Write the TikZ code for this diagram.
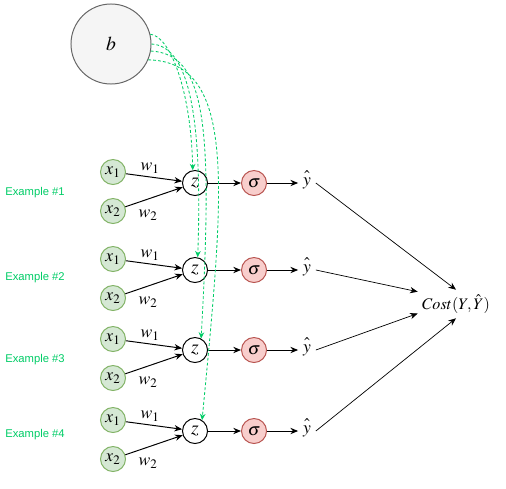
\documentclass[tikz,border=0pt]{standalone}
\usepackage{fontspec}
\usepackage{mathptmx}
\newfontfamily\exfont{Liberation Sans}
\usetikzlibrary{arrows.meta}
\definecolor{ingreen}{HTML}{D5E8D4}
\definecolor{inline}{HTML}{82B366}
\definecolor{sigred}{HTML}{F8CECC}
\definecolor{sigline}{HTML}{B85450}
\definecolor{biasgray}{HTML}{F5F5F5}
\definecolor{exgreen}{HTML}{00CC66}

\begin{document}
\begin{tikzpicture}[x=0.025cm,y=-0.025cm,every node/.style={font=\fontsize{12.5}{14}\selectfont},
  innode/.style={circle,draw=inline,fill=ingreen,line width=.7pt,minimum size=0.625cm,inner sep=0pt},
  sumnode/.style={circle,draw,fill=white,line width=.7pt,minimum size=0.625cm,inner sep=0pt,font=\fontsize{14}{16}\selectfont},
  signode/.style={circle,draw=sigline,fill=sigred,line width=.7pt,minimum size=0.625cm,inner sep=0pt},
  exlabel/.style={font=\exfont\fontsize{8}{10}\selectfont,text=exgreen},
  arr/.style={-{Stealth[length=5.5pt,width=4.5pt]},line width=.7pt},
  costarr/.style={-{Stealth[length=5.5pt,width=4.5pt]},line width=.5pt},
  biasline/.style={exgreen,dash pattern=on 2pt off 1.5pt,line width=.6pt,-{Stealth[length=4.5pt,width=4pt]}}]
\useasboundingbox (0,0) rectangle (506,488);
\node[circle,draw=black!60,fill=biasgray,line width=.7pt,minimum size=2cm,inner sep=0pt,font=\fontsize{14}{16}\selectfont] (b) at (111,44) {$b$};
\node[minimum width=1.9cm,minimum height=0.7cm,inner sep=0pt,font=\fontsize{11.5}{13}\selectfont] (cost) at (456,304) {$Cost(Y,\hat{Y})$};
\foreach \i/\zy/\ey in {1/183/193,2/270/278,3/350/360,4/431/435}{
  \node[sumnode] (z\i) at (195,\zy) {$z$};
  \node[innode] (xa\i) at (113,\zy-11) {$x_1$};
  \node[innode] (xb\i) at (113,\zy+28) {$x_2$};
  \node (wa\i) at (150,\zy-15) {$w_1$};
  \node (wb\i) at (148,\zy+32) {$w_2$};
  \node[signode] (s\i) at (254,\zy) {$\sigma$};
  \node (yh\i) at (307,\zy-3) {$\hat{\vphantom{T}y}$};
  \node[exlabel] (ex\i) at (35,\ey) {Example \#\i};
  \draw[arr] (xa\i) -- (z\i);
  \draw[arr] (xb\i) -- (z\i);
  \draw[arr] (z\i) -- (s\i);
  \draw[arr] (s\i) -- (yh\i.west |- s\i);
}
% outputs into the cost
\draw[costarr] (yh1.east |- s1) -- (cost.north);
\draw[costarr] (yh2.east |- s2) -- ([yshift=-0.05cm]cost.north west);
\draw[costarr] (yh3.east |- s3) -- ([yshift=0.12cm]cost.south west);
\draw[costarr] (yh4.east |- s4) -- (cost.south);
% bias to every z
\draw[biasline] (b.14) .. controls (170,36) and (191,90) .. (z1.100);
\draw[biasline] (b.0) .. controls (186,46) and (203,105) .. (z2.78);
\draw[biasline] (b.-10) .. controls (206,54) and (213,125) .. (z3.62);
\draw[biasline] (b.-23) .. controls (238,62) and (224,190) .. (z4.57);
\end{tikzpicture}
\end{document}
